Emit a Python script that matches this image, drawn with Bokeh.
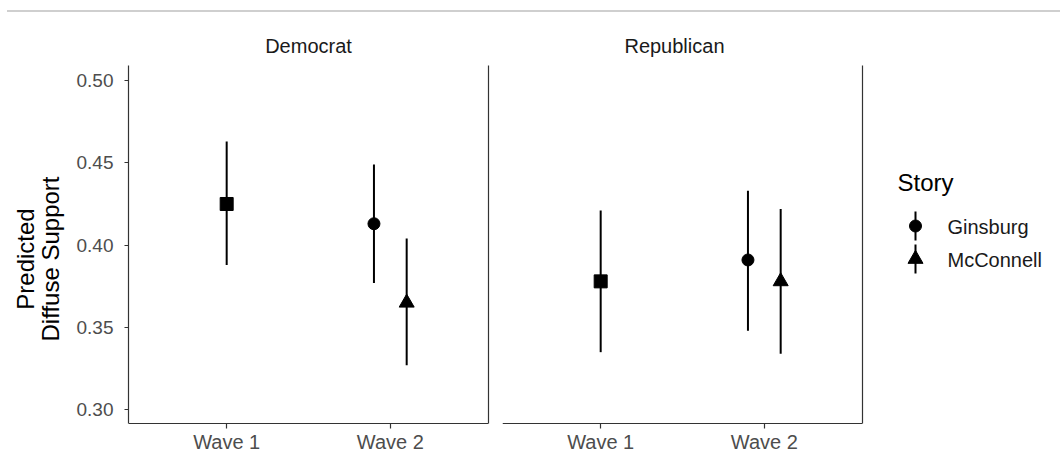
from bokeh.plotting import figure
from bokeh.models import (FactorRange, Range1d, FixedTicker, NumeralTickFormatter,
                          LinearAxis, CategoricalAxis, ColumnDataSource, Spacer, Div)
from bokeh.layouts import row, column
from bokeh.transform import dodge
from bokeh.embed import file_html
from bokeh.resources import INLINE
from bokeh.core.properties import value

# ---------------- data ----------------
panels = ["Democrat", "Republican"]
waves = ["Wave 1", "Wave 2"]
stories = ["Ginsburg", "McConnell"]
story_markers = ["circle", "triangle"]

# Wave 1 baseline estimates (square marker), one value per panel
base_est = [0.425, 0.378]
base_lo = [0.388, 0.335]
base_hi = [0.463, 0.421]

# Wave 2 estimates by story, one value per panel
ginsburg_est = [0.413, 0.391]
ginsburg_lo = [0.377, 0.348]
ginsburg_hi = [0.449, 0.433]

mcconnell_est = [0.365, 0.378]
mcconnell_lo = [0.327, 0.334]
mcconnell_hi = [0.404, 0.422]

y_ticks = [0.30, 0.35, 0.40, 0.45, 0.50]
y_title = "Predicted\nDiffuse Support"
legend_title = "Story"

# ---------------- style / layout ----------------
FONT = "Liberation Sans"
AX = "#333333"
TICK_TXT = "#4d4d4d"
TOP = 12                 # page y where the row of panels starts
ROW_H = 452 - TOP
FRAME_TOP = 65           # page y of the panel top
PX_PER_UNIT = 1646.5     # vertical scale of the panels
Y_REF, Y_REF_PX = 0.30, 409.3
Y_HI = Y_REF + (Y_REF_PX - FRAME_TOP) / PX_PER_UNIT
Y_LO = Y_REF - (452 - Y_REF_PX) / PX_PER_UNIT
Y_AXIS = Y_REF - (423.3 - Y_REF_PX) / PX_PER_UNIT   # where the bottom axis sits
DODGE = 0.1


def make_panel(i, show_y):
    left = 128 if show_y else 7
    right = 7 if show_y else 2
    w = left + 360 + right
    p = figure(width=w, height=ROW_H, output_backend="svg", toolbar_location=None,
               x_range=FactorRange(factors=waves, range_padding=0.1,
                                   range_padding_units="absolute"),
               y_range=Range1d(Y_LO, Y_HI),
               x_axis_location=None, y_axis_location=None,
               min_border_left=left, min_border_right=right,
               min_border_top=FRAME_TOP - TOP, min_border_bottom=0)
    p.outline_line_color = None
    p.xgrid.visible = False
    p.ygrid.visible = False
    p.background_fill_color = "white"
    p.border_fill_color = "white"

    p.title.text = panels[i]
    p.title.text_font = FONT
    p.title.text_font_size = "20px"
    p.title.text_font_style = "normal"
    p.title.text_color = "#1a1a1a"
    p.title.standoff = 17
    if show_y:
        p.title.align = "center"
    else:
        p.title.align = "right"
        p.title.offset = 138

    xa = CategoricalAxis(fixed_location=Y_AXIS)
    xa.axis_line_color = AX
    xa.axis_line_width = 1.2
    xa.major_tick_line_color = AX
    xa.major_tick_line_width = 1.2
    xa.major_tick_in = 0
    xa.major_tick_out = 5
    xa.minor_tick_line_color = None
    xa.major_label_standoff = 2
    xa.major_label_text_font = FONT
    xa.major_label_text_font_size = "20px"
    xa.major_label_text_color = TICK_TXT
    p.add_layout(xa, "below")

    if show_y:
        ya = LinearAxis(ticker=FixedTicker(ticks=y_ticks),
                        formatter=NumeralTickFormatter(format="0.00"))
        ya.bounds = (Y_AXIS, Y_HI)
        ya.axis_line_color = AX
        ya.axis_line_width = 1.2
        ya.major_tick_line_color = AX
        ya.major_tick_line_width = 1.2
        ya.major_tick_in = 0
        ya.major_tick_out = 4
        ya.minor_tick_line_color = None
        ya.major_label_standoff = 11
        ya.major_label_text_font = FONT
        ya.major_label_text_font_size = "19px"
        ya.major_label_text_color = TICK_TXT
        ya.axis_label = y_title
        ya.axis_label_text_font = FONT
        ya.axis_label_text_font_size = "24px"
        ya.axis_label_text_line_height = 0.92
        ya.axis_label_text_font_style = "normal"
        ya.axis_label_text_color = "black"
        ya.axis_label_standoff = 10
        p.add_layout(ya, "left")

    # right border line of the panel
    ra = LinearAxis(ticker=FixedTicker(ticks=[]), axis_line_color=AX, axis_line_width=1.2,
                    major_tick_line_color=None, minor_tick_line_color=None,
                    major_label_text_font_size="0px", major_label_standoff=0,
                    major_tick_out=0, major_tick_in=0)
    ra.bounds = (Y_AXIS, Y_HI)
    p.add_layout(ra, "right")

    base = ColumnDataSource(dict(wave=[waves[0]], est=[base_est[i]],
                                 lo=[base_lo[i]], hi=[base_hi[i]]))
    gins = ColumnDataSource(dict(wave=[waves[1]], est=[ginsburg_est[i]],
                                 lo=[ginsburg_lo[i]], hi=[ginsburg_hi[i]]))
    mcc = ColumnDataSource(dict(wave=[waves[1]], est=[mcconnell_est[i]],
                                lo=[mcconnell_lo[i]], hi=[mcconnell_hi[i]]))

    for src, off, marker, size in [(base, 0.0, "square", 13),
                                   (gins, -DODGE, story_markers[0], 12),
                                   (mcc, DODGE, story_markers[1], 15)]:
        xx = dodge("wave", off, range=p.x_range)
        p.segment(x0=xx, y0="lo", x1=xx, y1="hi", source=src,
                  line_color="black", line_width=2)
        p.scatter(x=xx, y="est", source=src, marker=marker, size=size,
                  fill_color="black", line_color="black")
    return p


p1 = make_panel(0, True)
p2 = make_panel(1, False)

# legend panel (its data coordinates equal page pixels)
LX0 = p1.width + p2.width
LW = 1060 - LX0
pl = figure(width=LW, height=ROW_H, output_backend="svg", toolbar_location=None,
            x_range=Range1d(LX0, LX0 + LW), y_range=Range1d(452, FRAME_TOP),
            min_border_left=0, min_border_right=0,
            min_border_top=FRAME_TOP - TOP, min_border_bottom=0,
            x_axis_location=None, y_axis_location=None)
pl.outline_line_color = None
pl.xgrid.visible = False
pl.ygrid.visible = False

pl.text(x=[897], y=[182], text=[legend_title], text_font=value(FONT),
        text_font_size="24px", text_baseline="middle", text_align="left",
        text_color="black")
key_x = 915
key_y0 = 225.5
key_step = 33
kys = [key_y0 + k * key_step for k in range(len(stories))]
pl.segment(x0=[key_x] * len(stories), y0=[y - 14.5 for y in kys],
           x1=[key_x] * len(stories), y1=[y + 14.5 for y in kys],
           line_color="black", line_width=2)
pl.scatter(x=[key_x] * len(stories), y=kys, marker=story_markers, size=[12, 15],
           fill_color="black", line_color="black")
pl.text(x=[947] * len(stories), y=[y + 0.5 for y in kys], text=stories,
        text_font=value(FONT), text_font_size="20px", text_baseline="middle",
        text_align="left", text_color="#1a1a1a")

# thin gray rule at the top of the page
rule = Div(text="", width=1053, height=2, margin=(0, 0, 0, 0),
           styles={"background-color": "#cfcfcf"})
layout = column(Spacer(width=1060, height=10, margin=(0, 0, 0, 0)),
                row(Spacer(width=7, height=2, margin=(0, 0, 0, 0)), rule),
                row(p1, p2, pl))

open("out.html", "w").write(file_html(layout, INLINE))
